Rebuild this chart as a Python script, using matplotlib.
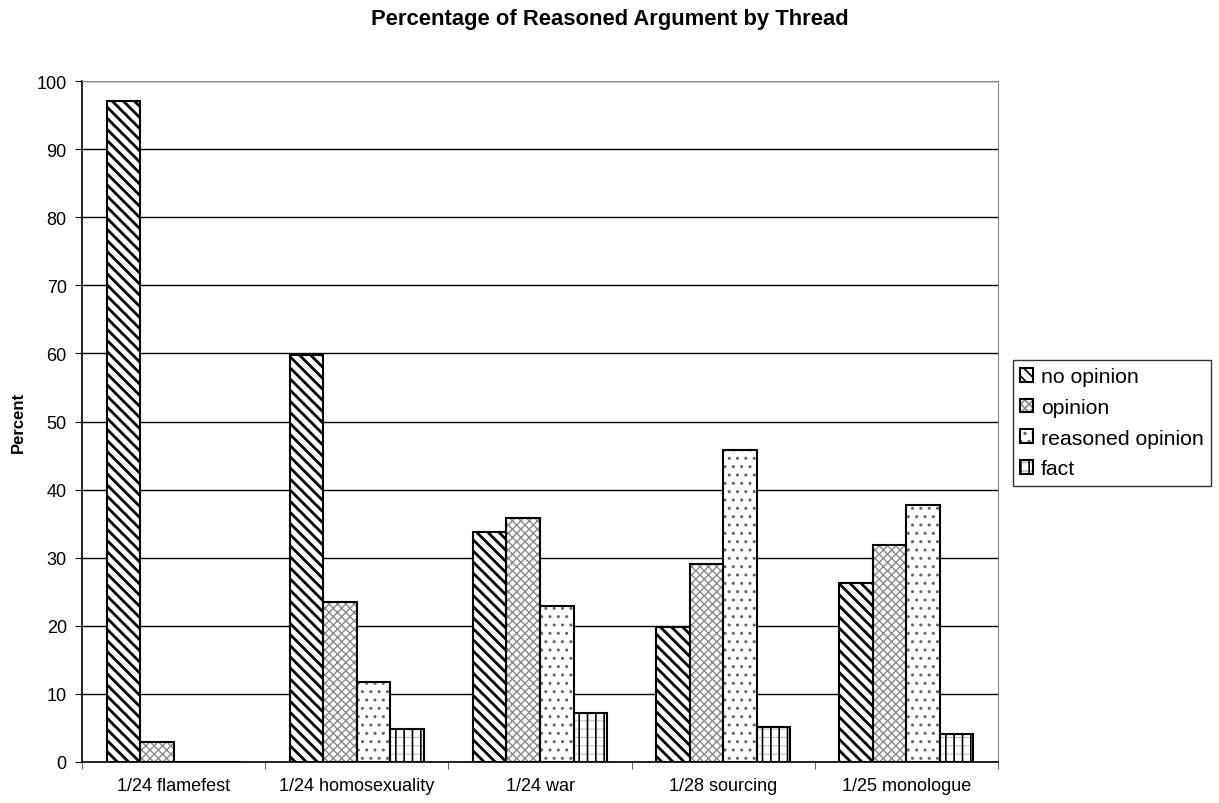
import numpy as np
import matplotlib.pyplot as plt
from matplotlib.patches import Patch

plt.rcParams['font.family'] = ['Liberation Sans', 'DejaVu Sans']

threads = ['1/24 flamefest', '1/24 homosexuality', '1/24 war', '1/28 sourcing', '1/25 monologue']
no_opinion = [97.1, 59.7, 33.8, 19.8, 26.3]
opinion = [2.9, 23.5, 35.9, 29.1, 31.9]
reasoned_opinion = [0, 11.8, 22.9, 45.8, 37.8]
fact = [0, 4.9, 7.2, 5.2, 4.1]

# name, values, list of (hatch, hatch colour, hatch line width) layers
series = [
    ('no opinion', no_opinion, [('\\\\\\', 'black', 2.0)]),
    ('opinion', opinion, [('xxxx', '#8a8a8a', 1.0)]),
    ('reasoned opinion', reasoned_opinion, [('..', '#666666', 1.0)]),
    ('fact', fact, [('--', '#c0c0c0', 0.8), ('||', 'black', 1.2)]),
]

fig = plt.figure(figsize=(12.19, 8.04), dpi=100)
ax = fig.add_axes([0.0673, 0.051, 0.7514, 0.847])

x = np.arange(len(threads))
w = 0.183
handles = []
for i, (name, vals, layers) in enumerate(series):
    pos = x - 1.5 * w + i * w
    proxy = []
    for j, (hatch, hc, hlw) in enumerate(layers):
        plt.rcParams['hatch.linewidth'] = hlw
        ax.bar(pos, vals, width=w, facecolor='white' if j == 0 else 'none',
               edgecolor=hc, hatch=hatch, linewidth=0, zorder=3 + j * 0.1)
        proxy.append(Patch(facecolor='white' if j == 0 else 'none', edgecolor=hc,
                           hatch=hatch, linewidth=0))
    # black outline on top so the hatch keeps its own colour
    ax.bar(pos, vals, width=w, facecolor='none', edgecolor='black', linewidth=1.5, zorder=4)
    proxy.append(Patch(facecolor='none', edgecolor='black', linewidth=1.5))
    handles.append(tuple(proxy))

ax.set_xlim(-0.5, len(threads) - 0.5)
ax.set_ylim(0, 100)
ax.set_yticks(range(0, 101, 10))
ax.yaxis.grid(True, color='black', linewidth=1, zorder=0)

ax.set_xticks(np.arange(-0.5, len(threads), 1.0))
ax.set_xticklabels([])
ax.set_xticks(x, minor=True)
ax.set_xticklabels(threads, minor=True)
ax.tick_params(axis='x', which='minor', length=0, pad=11, labelsize=13)
ax.tick_params(axis='x', which='major', length=5, color='#666666')
ax.tick_params(axis='y', length=5, pad=6, labelsize=13)

for side in ['left', 'bottom']:
    ax.spines[side].set_linewidth(1.2)
ax.spines['top'].set_color('#888888')
ax.spines['right'].set_color('#888888')

ax.set_ylabel('Percent', fontsize=12, fontweight='bold', labelpad=8)
fig.text(0.5, 1 - 19 / 804, 'Percentage of Reasoned Argument by Thread', fontsize=15.8,
         fontweight='bold', ha='center', va='center')

leg = ax.legend(handles, [s[0] for s in series], loc='center left',
                bbox_to_anchor=(1.0164, 0.498), fontsize=15.3, frameon=True, fancybox=False,
                edgecolor='black', handlelength=0.6, handleheight=0.6, handletextpad=0.35,
                borderpad=0.35, labelspacing=0.55, borderaxespad=0)
leg.get_frame().set_linewidth(1)

fig.savefig('out.png', dpi=100)
